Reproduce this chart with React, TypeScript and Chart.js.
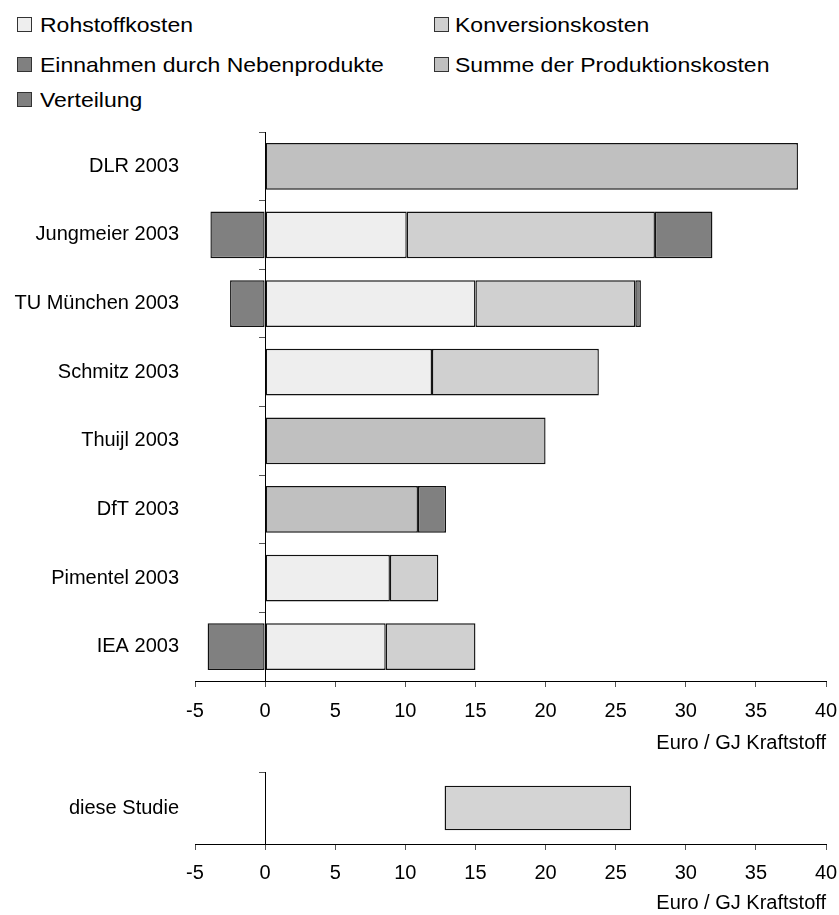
import React, { useEffect, useRef } from "react";
import { Chart, registerables } from "chart.js";

Chart.register(...registerables);

// ---------- data ----------
const categories = [
  "DLR 2003",
  "Jungmeier 2003",
  "TU München 2003",
  "Schmitz 2003",
  "Thuijl 2003",
  "DfT 2003",
  "Pimentel 2003",
  "IEA 2003",
];
const rohstoffkosten = [null, 10.1, 15.0, 11.9, null, null, 8.9, 8.6];
const konversionskosten = [null, 17.7, 11.4, 11.9, null, null, 3.45, 6.4];
const einnahmenNebenprodukte = [null, -3.9, -2.5, null, null, null, null, -4.1];
const summeProduktionskosten = [38, null, null, null, 20, 10.9, null, null];
const verteilung = [null, 4.1, 0.4, null, null, 2.0, null, null];

const studieCategories = ["diese Studie"];
const studieRange = [[12.8, 26.1]];

const xMin = -5;
const xMax = 40;
const xStep = 5;
const axisTitle = "Euro / GJ Kraftstoff";

const seriesNames = [
  "Rohstoffkosten",
  "Konversionskosten",
  "Einnahmen durch Nebenprodukte",
  "Summe der Produktionskosten",
  "Verteilung",
];
const seriesColors = ["#eeeeee", "#d0d0d0", "#808080", "#c0c0c0", "#808080"];
const studieColor = "#d4d4d4";

// ---------- styling ----------
const FONT = '"Liberation Sans", Arial, Helvetica, sans-serif';
const BORDER = "#111111";
const TICK_COLOR = "#555555";

function xScale(tickPadding: number, titlePadTop: number, height: number) {
  return {
    type: "linear",
    axis: "x",
    position: "bottom",
    min: xMin,
    max: xMax,
    stacked: true,
    ticks: {
      stepSize: xStep,
      color: "#000",
      font: { family: FONT, size: 20 },
      padding: tickPadding,
      maxRotation: 0,
      autoSkip: false,
    },
    grid: {
      drawOnChartArea: false,
      drawTicks: true,
      tickLength: 6,
      color: TICK_COLOR,
      lineWidth: 1,
    },
    border: { display: true, color: "#000", width: 1 },
    title: {
      display: true,
      text: axisTitle,
      align: "end",
      color: "#000",
      font: { family: FONT, size: 20 },
      padding: { top: titlePadTop, bottom: 0 },
    },
    afterFit: (s: any) => {
      s.height = height;
      s.paddingLeft = 0;
      s.paddingRight = 0;
    },
  };
}

function yAxisLine() {
  return {
    type: "category",
    axis: "y",
    position: { x: 0 },
    stacked: true,
    offset: true,
    ticks: { display: false },
    grid: {
      display: true,
      offset: true,
      drawOnChartArea: false,
      drawTicks: true,
      tickLength: 6,
      color: TICK_COLOR,
      lineWidth: 1,
    },
    border: { display: true, color: "#000", width: 1 },
  };
}

function yLabelAxis() {
  return {
    type: "category",
    axis: "y",
    position: "left",
    offset: true,
    grid: { display: false, drawTicks: false },
    border: { display: false },
    ticks: {
      color: "#000",
      font: { family: FONT, size: 20 },
      padding: 16,
      autoSkip: false,
    },
    afterFit: (s: any) => {
      s.width = 195;
      s.paddingTop = 0;
      s.paddingBottom = 0;
    },
  };
}

const seriesData = [
  rohstoffkosten,
  konversionskosten,
  einnahmenNebenprodukte,
  summeProduktionskosten,
  verteilung,
];

function MainChart() {
  const ref = useRef<HTMLCanvasElement | null>(null);
  useEffect(() => {
    if (!ref.current) return;
    const chart = new Chart(ref.current, {
      type: "bar",
      data: {
        labels: categories,
        datasets: seriesNames.map((name, i) => ({
          label: name,
          data: seriesData[i],
          backgroundColor: seriesColors[i],
          borderColor: BORDER,
          borderWidth: 1.4,
          borderSkipped: false,
          xAxisID: "x",
          yAxisID: "y",
          categoryPercentage: 1,
          barPercentage: 0.68,
        })),
      },
      options: {
        indexAxis: "y",
        responsive: false,
        animation: false,
        events: [],
        layout: { padding: { left: 0, right: 13, top: 132, bottom: 5 } },
        plugins: { legend: { display: false }, tooltip: { enabled: false } },
        scales: {
          x: xScale(12, 7, 74),
          y: yAxisLine(),
          yLabels: yLabelAxis(),
        },
      } as any,
    } as any);
    return () => chart.destroy();
  }, []);
  return (
    <canvas
      ref={ref}
      width={839}
      height={760}
      style={{ position: "absolute", left: 0, top: 0, width: 839, height: 760 }}
    />
  );
}

function StudyChart() {
  const ref = useRef<HTMLCanvasElement | null>(null);
  useEffect(() => {
    if (!ref.current) return;
    const chart = new Chart(ref.current, {
      type: "bar",
      data: {
        labels: studieCategories,
        datasets: [
          {
            label: studieCategories[0],
            data: studieRange,
            backgroundColor: studieColor,
            borderColor: BORDER,
            borderWidth: 1.4,
            borderSkipped: false,
            xAxisID: "x",
            yAxisID: "y",
            categoryPercentage: 1,
            barPercentage: 0.62,
          },
        ],
      },
      options: {
        indexAxis: "y",
        responsive: false,
        animation: false,
        events: [],
        layout: { padding: { left: 0, right: 13, top: 12, bottom: 0 } },
        plugins: { legend: { display: false }, tooltip: { enabled: false } },
        scales: {
          x: { ...xScale(11, 6, 71), stacked: false },
          y: { ...yAxisLine(), stacked: false },
          yLabels: yLabelAxis(),
        },
      } as any,
    } as any);
    return () => chart.destroy();
  }, []);
  return (
    <canvas
      ref={ref}
      width={839}
      height={155}
      style={{ position: "absolute", left: 0, top: 760, width: 839, height: 155 }}
    />
  );
}

// legend placement (layout only)
const legendPlaces = [
  { x: 17, tx: 40, cy: 24.5 },
  { x: 434, tx: 455, cy: 24.5 },
  { x: 17, tx: 40, cy: 64 },
  { x: 434, tx: 455, cy: 64 },
  { x: 17, tx: 40, cy: 99.5 },
];

function Legend() {
  return (
    <>
      {seriesNames.map((name, i) => {
        const p = legendPlaces[i];
        return (
          <React.Fragment key={name}>
            <div
              style={{
                position: "absolute",
                left: p.x,
                top: p.cy - 7.5,
                width: 15,
                height: 15,
                boxSizing: "border-box",
                border: "1px solid #333",
                background: seriesColors[i],
              }}
            />
            <div
              style={{
                position: "absolute",
                left: p.tx,
                top: p.cy - 12.2,
                fontFamily: FONT,
                fontSize: 21,
                lineHeight: "25px",
                color: "#000",
                whiteSpace: "nowrap",
                transform: "scaleX(1.095)",
                transformOrigin: "0 50%",
              }}
            >
              {name}
            </div>
          </React.Fragment>
        );
      })}
    </>
  );
}

export default function App() {
  return (
    <div
      style={{
        position: "absolute",
        left: 0,
        top: 0,
        width: 839,
        height: 915,
        overflow: "hidden",
        background: "#fff",
      }}
    >
      <Legend />
      <MainChart />
      <StudyChart />
    </div>
  );
}
